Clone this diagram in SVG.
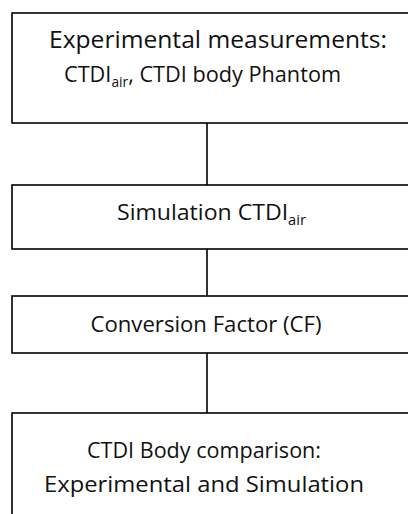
<svg xmlns="http://www.w3.org/2000/svg" width="408" height="514" viewBox="0 0 408 514">
<style>
.box{fill:#fff;stroke:#000;stroke-width:1.6}
.ln{stroke:#000;stroke-width:1.6;fill:none}
.t{font-family:"Open Sans","Liberation Sans",sans-serif;font-size:22px;fill:#111;text-anchor:middle}
.sub{font-size:14px}
</style>
<rect width="408" height="514" fill="#fff"/>
<g id="connectors">
<line class="ln" x1="207" y1="123" x2="207" y2="185"/>
<line class="ln" x1="207" y1="249" x2="207" y2="296"/>
<line class="ln" x1="207" y1="353" x2="207" y2="413"/>
</g>
<g id="node1">
<rect class="box" x="12" y="13" width="430" height="110"/>
<text class="t" x="218" y="48" style="font-size:23.5px" textLength="338" lengthAdjust="spacingAndGlyphs">Experimental measurements:</text>
<text class="t" x="202.5" y="82" textLength="277" lengthAdjust="spacingAndGlyphs">CTDI<tspan class="sub" dy="5">air</tspan><tspan dy="-5">, CTDI body Phantom</tspan></text>
</g>
<g id="node2">
<rect class="box" x="12" y="185" width="430" height="64"/>
<text class="t" x="211.5" y="220" textLength="189" lengthAdjust="spacingAndGlyphs">Simulation CTDI<tspan class="sub" dy="5">air</tspan></text>
</g>
<g id="node3">
<rect class="box" x="12" y="296" width="430" height="57"/>
<text class="t" x="206" y="332" textLength="231" lengthAdjust="spacingAndGlyphs">Conversion Factor (CF)</text>
</g>
<g id="node4">
<rect class="box" x="12" y="413" width="430" height="130"/>
<text class="t" x="204" y="458" textLength="234" lengthAdjust="spacingAndGlyphs">CTDI Body comparison:</text>
<text class="t" x="204" y="492" textLength="320" lengthAdjust="spacingAndGlyphs">Experimental and Simulation</text>
</g>
</svg>
